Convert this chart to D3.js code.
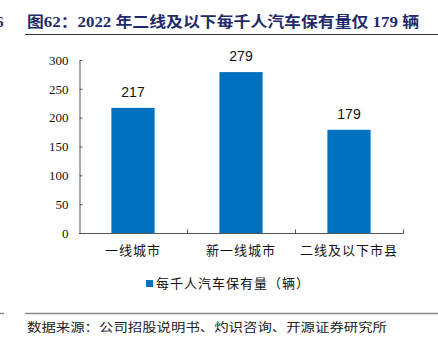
<!DOCTYPE html>
<html>
<head>
<meta charset="utf-8">
<script src="https://cdn.jsdelivr.net/npm/d3@7"></script>
<style>
  html, body { margin: 0; padding: 0; background: #fff; }
  svg { display: block; }
</style>
</head>
<body>
<svg id="chart" width="438" height="348"></svg>
<script>
// Vehicles owned per thousand people, by city tier (2022)
const categories = ["一线城市", "新一线城市", "二线及以下市县"];
const ownership = [217, 279, 179];
const yTicks = [0, 50, 100, 150, 200, 250, 300];
const seriesName = "每千人汽车保有量（辆）";
const titleText = "图62：2022 年二线及以下每千人汽车保有量仅 179 辆";
const sourceText = "数据来源：公司招股说明书、灼识咨询、开源证券研究所";

const svg = d3.select("#chart");
const navy = "#1f2a6b";
const barColor = "#0070c0";
const serif = "'Liberation Serif','Times New Roman','Noto Sans CJK SC',serif";
const cjk = "'Noto Sans CJK SC','Liberation Serif',serif";

// Header
svg.append("text").attr("x", -4).attr("y", 27)
  .attr("font-family", serif).attr("font-weight", "bold").attr("font-size", 15)
  .attr("fill", navy).text("6");
svg.append("text").attr("x", 27).attr("y", 27)
  .attr("font-family", serif).attr("font-weight", "bold").attr("font-size", 15)
  .attr("fill", navy).attr("textLength", 392).attr("lengthAdjust", "spacingAndGlyphs")
  .text(titleText);
svg.append("line").attr("x1", 25).attr("x2", 438).attr("y1", 34.5).attr("y2", 34.5)
  .attr("stroke", "#333").attr("stroke-width", 1);

// Plot area
const x = d3.scaleBand().domain(categories).range([79, 403]);
const y = d3.scaleLinear().domain([0, 300]).range([233, 60]);
const barW = x.bandwidth() * 0.4;

const g = svg.append("g");
g.selectAll("rect.bar").data(ownership).join("rect")
  .attr("class", "bar")
  .attr("x", (d, i) => x(categories[i]) + (x.bandwidth() - barW) / 2)
  .attr("width", barW)
  .attr("y", d => y(d))
  .attr("height", d => y(0) - y(d))
  .attr("fill", barColor);

g.selectAll("text.val").data(ownership).join("text")
  .attr("class", "val")
  .attr("x", (d, i) => x(categories[i]) + x.bandwidth() / 2)
  .attr("y", d => y(d) - 11)
  .attr("text-anchor", "middle")
  .attr("font-family", "'Liberation Sans',Arial,sans-serif")
  .attr("font-size", 14).attr("fill", "#111")
  .text(d => d);

// Y axis with inward ticks
const yAxis = d3.axisLeft(y).tickValues(yTicks).tickSizeInner(-3).tickSizeOuter(0).tickPadding(11);
const ya = svg.append("g").attr("transform", "translate(79.5,0)").call(yAxis);
ya.select(".domain").attr("stroke", "#555");
ya.selectAll(".tick line").attr("stroke", "#555");
ya.selectAll(".tick text").attr("font-family", serif).attr("font-size", 13).attr("fill", "#111");

// X axis: ticks at category boundaries, pointing up
const xa = svg.append("g").attr("transform", "translate(0,233.5)");
xa.append("line").attr("x1", 79).attr("x2", 403.5).attr("stroke", "#555");
const bounds = categories.map(c => x(c) + x.bandwidth());
xa.selectAll("line.tk").data(bounds).join("line").attr("class", "tk")
  .attr("x1", d => Math.round(d) + 0.5).attr("x2", d => Math.round(d) + 0.5)
  .attr("y1", 0).attr("y2", -4).attr("stroke", "#555");
xa.selectAll("text").data(categories).join("text")
  .attr("x", d => x(d) + x.bandwidth() / 2)
  .attr("y", 21)
  .attr("text-anchor", "middle")
  .attr("font-family", cjk).attr("font-size", 13).attr("fill", "#111")
  .attr("letter-spacing", 1)
  .text(d => d);

// Legend
const lg = svg.append("g");
lg.append("rect").attr("x", 146).attr("y", 280).attr("width", 7).attr("height", 7).attr("fill", barColor);
lg.append("text").attr("x", 156).attr("y", 288)
  .attr("font-family", cjk).attr("font-size", 13).attr("fill", "#111")
  .attr("letter-spacing", 1)
  .text(seriesName);

// Footer
svg.append("line").attr("x1", 0).attr("x2", 4).attr("y1", 313.5).attr("y2", 313.5)
  .attr("stroke", "#888").attr("stroke-width", 1.5);
svg.append("line").attr("x1", 25).attr("x2", 438).attr("y1", 313.5).attr("y2", 313.5)
  .attr("stroke", "#888").attr("stroke-width", 1.5);
svg.append("text").attr("x", 27).attr("y", 332)
  .attr("font-family", cjk).attr("font-size", 12).attr("fill", "#222")
  .attr("textLength", 360).attr("lengthAdjust", "spacingAndGlyphs")
  .text(sourceText);
</script>
</body>
</html>
